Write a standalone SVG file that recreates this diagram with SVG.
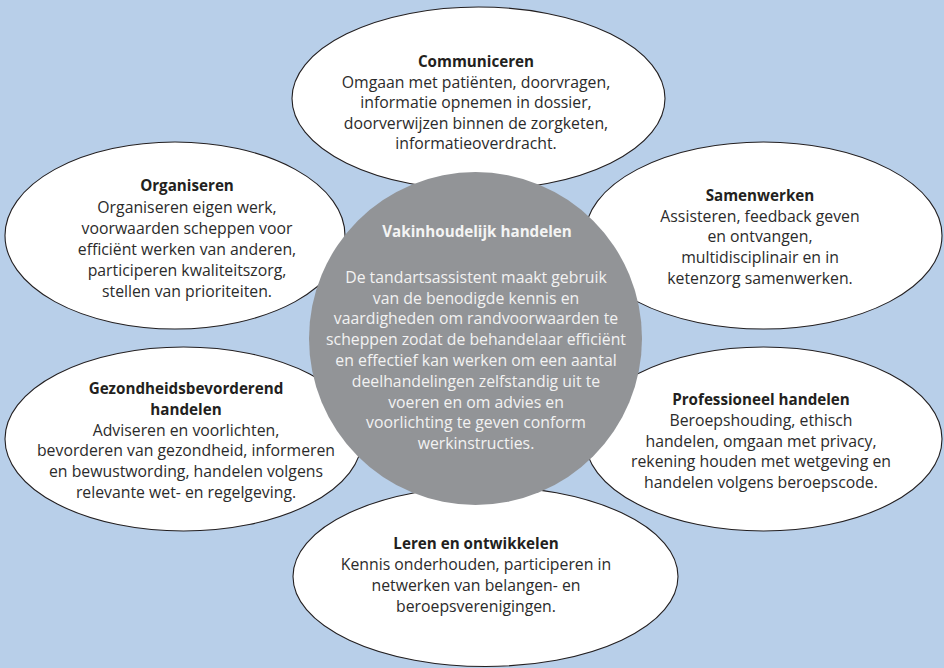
<svg xmlns="http://www.w3.org/2000/svg" width="944" height="668" viewBox="0 0 944 668">
  <style>
    .bub { fill: #ffffff; stroke: #231f20; stroke-width: 1.1; }
    .core { fill: #929497; }
    text { font-family: "Open Sans", "Noto Sans", "DejaVu Sans", sans-serif; font-size: 15.8px; text-anchor: middle; }
    .t { fill: #231f20; font-weight: bold; font-size: 15.2px; }
    .b { fill: #2b2b2b; }
    .ct { fill: #f4f4f4; font-weight: bold; font-size: 15.2px; }
    .cb { fill: #f2f2f2; }
  </style>
  <rect x="0" y="0" width="944" height="668" fill="#b8cfe9"/>

  <g id="communiceren">
    <ellipse class="bub" cx="478.5" cy="98.5" rx="186.5" ry="91.5"/>
    <text class="t" x="476" y="67">Communiceren</text>
    <text class="b" x="476" y="87.5">Omgaan met patiënten, doorvragen,</text>
    <text class="b" x="476" y="108">informatie opnemen in dossier,</text>
    <text class="b" x="476" y="128.5">doorverwijzen binnen de zorgketen,</text>
    <text class="b" x="476" y="149">informatieoverdracht.</text>
  </g>

  <g id="organiseren">
    <ellipse class="bub" cx="175" cy="235.5" rx="170" ry="93.5"/>
    <text class="t" x="187" y="190.7">Organiseren</text>
    <text class="b" x="187" y="212.5">Organiseren eigen werk,</text>
    <text class="b" x="187" y="233.5">voorwaarden scheppen voor</text>
    <text class="b" x="187" y="254.5">efficiënt werken van anderen,</text>
    <text class="b" x="187" y="275.5">participeren kwaliteitszorg,</text>
    <text class="b" x="187" y="296.5">stellen van prioriteiten.</text>
  </g>

  <g id="samenwerken">
    <ellipse class="bub" cx="763.5" cy="235.5" rx="178.5" ry="93.5"/>
    <text class="t" x="760" y="200.7">Samenwerken</text>
    <text class="b" x="760" y="221.5">Assisteren, feedback geven</text>
    <text class="b" x="760" y="242.3">en ontvangen,</text>
    <text class="b" x="760" y="263.1">multidisciplinair en in</text>
    <text class="b" x="760" y="284">ketenzorg samenwerken.</text>
  </g>

  <g id="gezondheidsbevorderend-handelen">
    <ellipse class="bub" cx="183.5" cy="439" rx="178.5" ry="92"/>
    <text class="t" x="186" y="394">Gezondheidsbevorderend</text>
    <text class="t" x="186" y="414.8">handelen</text>
    <text class="b" x="186" y="435.6">Adviseren en voorlichten,</text>
    <text class="b" x="186" y="456.4">bevorderen van gezondheid, informeren</text>
    <text class="b" x="186" y="477.2">en bewustwording, handelen volgens</text>
    <text class="b" x="186" y="498">relevante wet- en regelgeving.</text>
  </g>

  <g id="professioneel-handelen">
    <ellipse class="bub" cx="763.5" cy="439" rx="178.5" ry="92"/>
    <text class="t" x="761" y="405">Professioneel handelen</text>
    <text class="b" x="761" y="425.8">Beroepshouding, ethisch</text>
    <text class="b" x="761" y="446.6">handelen, omgaan met privacy,</text>
    <text class="b" x="761" y="467.4">rekening houden met wetgeving en</text>
    <text class="b" x="761" y="488.2">handelen volgens beroepscode.</text>
  </g>

  <g id="leren-en-ontwikkelen">
    <ellipse class="bub" cx="485.5" cy="576.5" rx="192.5" ry="90"/>
    <text class="t" x="476" y="549.3">Leren en ontwikkelen</text>
    <text class="b" x="476" y="570.1">Kennis onderhouden, participeren in</text>
    <text class="b" x="476" y="590.9">netwerken van belangen- en</text>
    <text class="b" x="476" y="611.7">beroepsverenigingen.</text>
  </g>

  <g id="vakinhoudelijk-handelen">
    <circle class="core" cx="475.5" cy="338.5" r="166.5"/>
    <text class="ct" x="477" y="237.3">Vakinhoudelijk handelen</text>
    <text class="cb" x="476" y="282.7">De tandartsassistent maakt gebruik</text>
    <text class="cb" x="476" y="303.5">van de benodigde kennis en</text>
    <text class="cb" x="476" y="324.3">vaardigheden om randvoorwaarden te</text>
    <text class="cb" x="476" y="345.1">scheppen zodat de behandelaar efficiënt</text>
    <text class="cb" x="476" y="365.9">en effectief kan werken om een aantal</text>
    <text class="cb" x="476" y="386.7">deelhandelingen zelfstandig uit te</text>
    <text class="cb" x="476" y="407.5">voeren en om advies en</text>
    <text class="cb" x="476" y="428.3">voorlichting te geven conform</text>
    <text class="cb" x="476" y="449.1">werkinstructies.</text>
  </g>
</svg>
